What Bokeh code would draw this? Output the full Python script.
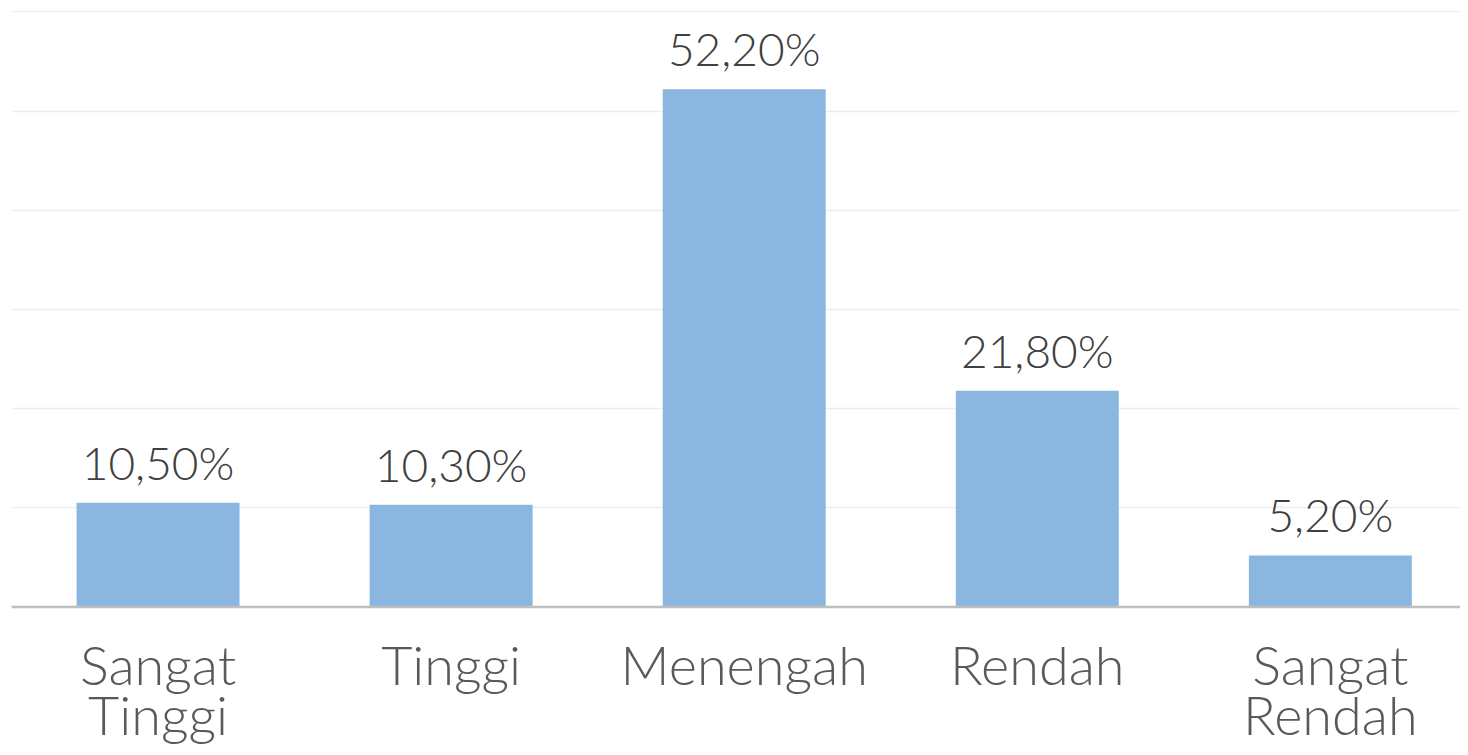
from bokeh.plotting import figure
from bokeh.models import ColumnDataSource, LabelSet, Range1d, FixedTicker, Span
from bokeh.core.properties import value
from bokeh.embed import file_html
from bokeh.resources import INLINE

categories = ["Sangat\nTinggi", "Tinggi", "Menengah", "Rendah", "Sangat\nRendah"]
values = [10.5, 10.3, 52.2, 21.8, 5.2]
y_ticks = [0, 10, 20, 30, 40, 50, 60]

xs = list(range(len(categories)))
labels = [f"{v:.2f}%".replace(".", ",") for v in values]
line1 = [c.split("\n")[0] for c in categories]
line2 = [c.split("\n")[1] if "\n" in c else "" for c in categories]
src = ColumnDataSource(dict(x=xs, top=values, label=labels,
                            base=[0] * len(xs), l1=line1, l2=line2))

FONT = "Lato Light"

p = figure(width=1460, height=747, output_backend="svg", toolbar_location=None,
           x_range=Range1d(-0.5, 4.444), y_range=Range1d(-14.17, 60.25),
           min_border_left=11, min_border_right=0, min_border_top=9, min_border_bottom=0)
p.outline_line_color = None
p.background_fill_color = "white"

p.vbar(x="x", top="top", bottom=0, width=0.556, source=src,
       fill_color="#8AB6E0", line_color=None)

p.xaxis.visible = False
p.yaxis.visible = False
p.yaxis.ticker = FixedTicker(ticks=y_ticks)
p.ygrid.ticker = FixedTicker(ticks=y_ticks)
p.ygrid.grid_line_color = "#EDEDED"
p.ygrid.grid_line_width = 1.5
p.xgrid.grid_line_color = None

p.add_layout(Span(location=0, dimension="width", line_color="#BFBFBF", line_width=2.5))

for col, off in (("l1", -78), ("l2", -128)):
    p.add_layout(LabelSet(x="x", y="base", text=col, source=src, y_offset=off,
                          text_align="center", text_baseline="alphabetic",
                          text_font=value(FONT), text_font_size="54px",
                          text_color="#595959"))

lbl = LabelSet(x="x", y="top", text="label", source=src, y_offset=23,
               text_align="center", text_baseline="alphabetic",
               text_font=value(FONT), text_font_size="46px", text_color="#404040")
p.add_layout(lbl)

open("out.html", "w").write(file_html(p, INLINE))
